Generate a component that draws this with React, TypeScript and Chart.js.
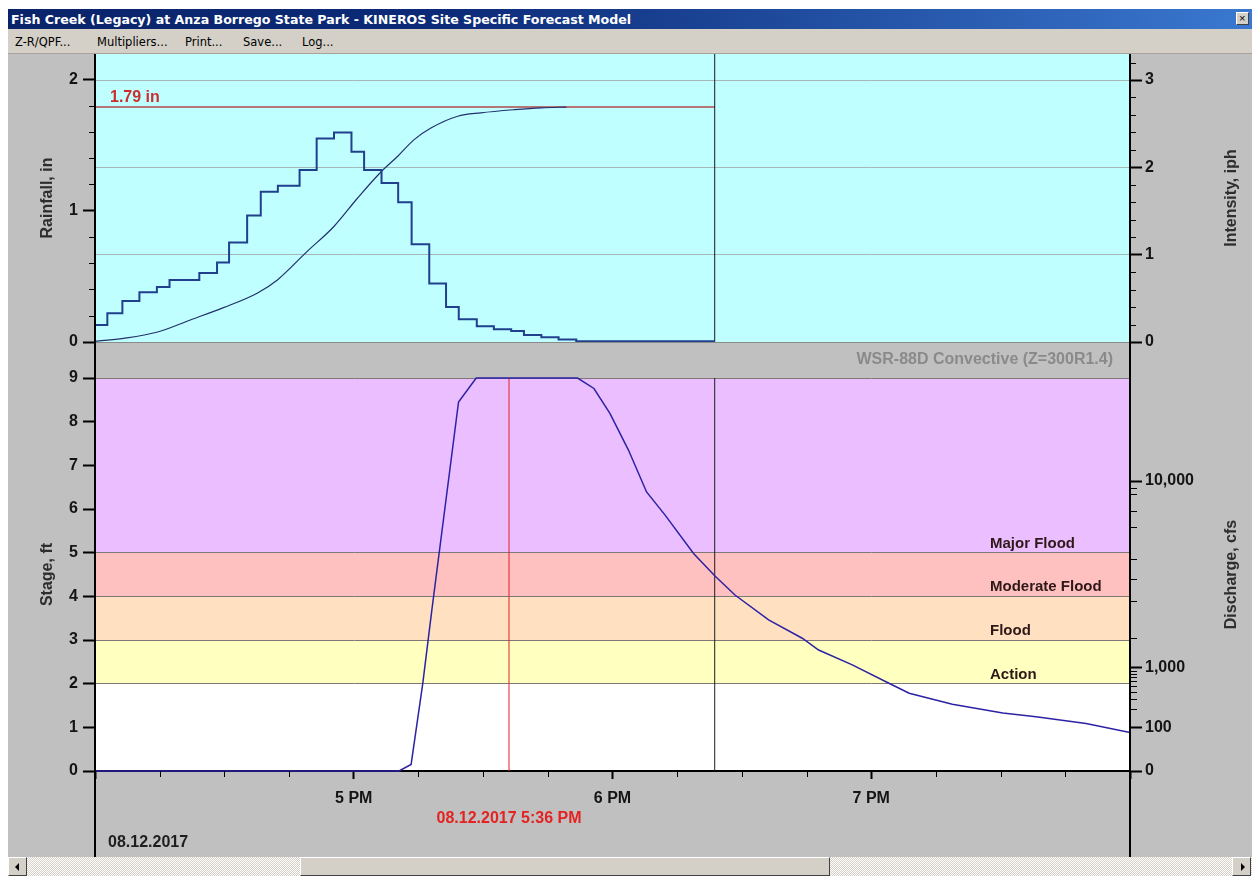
import React, { useEffect, useRef } from 'react';
import { Chart, registerables } from 'chart.js';

Chart.register(...registerables);

// ---------------- data ----------------
const windowTitle = 'Fish Creek (Legacy) at Anza Borrego State Park - KINEROS Site Specific Forecast Model';
const menuItems = ['Z-R/QPF...', 'Multipliers...', 'Print...', 'Save...', 'Log...'];

// x axis: minutes after 4 PM on 08.12.2017
const X_MIN = 0;
const X_MAX = 240;
const hourTicks = [0, 60, 120, 180, 240];
const hourLabels = ['', '5 PM', '6 PM', '7 PM', ''];
const quarterTicks = [15, 30, 45, 75, 90, 105, 135, 150, 165, 195, 210, 225];
const dateLabel = '08.12.2017';
const cursorMinute = 96;
const cursorLabel = '08.12.2017 5:36 PM';
const nowMinute = 143.7;
const radarLabel = 'WSR-88D Convective (Z=300R1.4)';

// rainfall panel
const RAIN_MAX = 2.194;
const INT_MAX = 3.298;
const rainTotal = 1.79;
const rainMajorTicks = [0, 1, 2];
const rainMinorTicks = [0.2, 0.4, 0.6, 0.8, 1.2, 1.4, 1.6, 1.8];
const intensityMajorTicks = [0, 1, 2, 3];
const intensityMinorTicks = [0.2, 0.4, 0.6, 0.8, 1.2, 1.4, 1.6, 1.8, 2.2, 2.4, 2.6, 2.8, 3.2];

const intensityEdges = [0, 2.86, 6.35, 10.3, 14.35, 17.28, 24.19, 28.3, 31.09, 35.28, 38.44, 42.4, 47.44, 51.4, 55.42, 59.47, 62.4, 66.44, 70.3, 73.42, 77.51, 81.4, 84.35, 88.53, 92.49, 96.51, 99.47, 103.5, 107.5, 111.6, 115.65, 143.7];
const intensityValues = [0.11, 0.195, 0.33, 0.47, 0.57, 0.63, 0.71, 0.79, 0.91, 1.14, 1.45, 1.72, 1.79, 1.97, 2.33, 2.4, 2.18, 1.97, 1.82, 1.6, 1.12, 0.67, 0.4, 0.26, 0.18, 0.145, 0.126, 0.08, 0.054, 0.03, 0.01];

const rainMinutes = [0, 6.6, 14.3, 22.1, 29.8, 37.6, 42.3, 49.2, 55.4, 60.9, 66.3, 70.2, 74.0, 77.9, 84.1, 89.5, 97.3, 103.5, 109.3];
const rainCumulative = [0.005, 0.028, 0.074, 0.168, 0.262, 0.372, 0.473, 0.69, 0.88, 1.097, 1.295, 1.415, 1.542, 1.63, 1.72, 1.746, 1.77, 1.784, 1.79];

// stage panel
const STAGE_MAX = 9;
const stageTicks = [0, 1, 2, 3, 4, 5, 6, 7, 8, 9];
const stageMinutes = [0, 70.5, 73.3, 76.0, 78.1, 84.3, 88.4, 111.9, 115.7, 119.4, 123.7, 127.9, 132.2, 138.8, 143.7, 148.4, 156.2, 164.0, 167.8, 175.6, 184.1, 188.8, 198.8, 210.5, 218.2, 229.8, 240];
const stageFeet = [0, 0, 0.15, 2.0, 3.68, 8.45, 9.0, 9.0, 8.76, 8.19, 7.35, 6.39, 5.86, 4.98, 4.47, 4.03, 3.46, 3.04, 2.77, 2.43, 2.01, 1.78, 1.53, 1.33, 1.24, 1.09, 0.88];

const floodFloors = [0, 2, 3, 4, 5];
const floodCeilings = [2, 3, 4, 5, 9];
const floodNames = ['', 'Action', 'Flood', 'Moderate Flood', 'Major Flood'];
const floodColors = ['#ffffff', '#ffffc0', '#ffe0c0', '#ffc0c0', '#ebbfff'];
const floodLineLevels = [2, 3, 4, 5, 9];

// discharge axis (rating curve: stage height of each discharge tick)
const dischargeMajorStage = [0, 1.0, 2.36, 6.64];
const dischargeMajorLabels = ['0', '100', '1,000', '10,000'];
const dischargeMinorStage = [1.41, 1.65, 1.82, 1.95, 2.06, 2.15, 2.23, 2.3, 3.05, 3.89, 4.39, 4.85, 5.58, 5.96, 6.34, 6.49];

// ---------------- helpers ----------------
const FAMILY = '"Liberation Sans", Arial, Helvetica, sans-serif';
const UI_FAMILY = '"DejaVu Sans", Verdana, sans-serif';
const tickFont = { family: FAMILY, size: 16, weight: 'bold' as const };
const MENU_X = [15, 97, 185, 243, 302];

const fixWidth = (w: number) => (s: any) => { s.width = w; s.paddingTop = 0; s.paddingBottom = 0; };
const fixHeight = (h: number) => (s: any) => { s.height = h; s.paddingLeft = 0; s.paddingRight = 0; };
const setTicks = (values: number[]) => (s: any) => { s.ticks = values.map((v) => ({ value: v })); };

function minorTicksPlugin(specs: { axis: string; values: number[]; len: number }[]) {
  return {
    id: 'minorTicks',
    afterDraw(chart: any) {
      const { ctx, chartArea: a } = chart;
      ctx.save();
      ctx.strokeStyle = '#000';
      ctx.lineWidth = 1;
      for (const sp of specs) {
        const s = chart.scales[sp.axis];
        for (const v of sp.values) {
          const p = Math.round(s.getPixelForValue(v)) + 0.5;
          ctx.beginPath();
          if (s.isHorizontal()) {
            ctx.moveTo(p, a.bottom);
            ctx.lineTo(p, a.bottom + sp.len);
          } else if (s.position === 'left') {
            ctx.moveTo(a.left - sp.len, p);
            ctx.lineTo(a.left, p);
          } else {
            ctx.moveTo(a.right, p);
            ctx.lineTo(a.right + sp.len, p);
          }
          ctx.stroke();
        }
      }
      ctx.restore();
    },
  };
}

function framePlugin(bottomLimit: 'area' | 'canvas') {
  return {
    id: 'frame',
    afterDraw(chart: any) {
      const { ctx, chartArea: a } = chart;
      const yEnd = bottomLimit === 'area' ? a.bottom : chart.height;
      ctx.save();
      ctx.strokeStyle = '#000';
      ctx.lineWidth = 2;
      [a.left, a.right].forEach((x: number) => {
        ctx.beginPath();
        ctx.moveTo(x, 0);
        ctx.lineTo(x, yEnd);
        ctx.stroke();
      });
      ctx.restore();
    },
  };
}

function rightTitlePlugin(text: string) {
  return {
    id: 'rightTitle',
    afterDraw(chart: any) {
      const { ctx, chartArea: a } = chart;
      ctx.save();
      ctx.translate(chart.width - 20, (a.top + a.bottom) / 2);
      ctx.rotate(-Math.PI / 2);
      ctx.font = `bold 16px ${FAMILY}`;
      ctx.fillStyle = '#2e2e2e';
      ctx.textAlign = 'center';
      ctx.textBaseline = 'middle';
      ctx.fillText(text, 0, 0);
      ctx.restore();
    },
  };
}

const lineDefaults = { pointRadius: 0, pointHoverRadius: 0, fill: false };

function topConfig(): any {
  const intensityPts = intensityEdges.map((e, i) => ({ x: e, y: intensityValues[Math.min(i, intensityValues.length - 1)] }));
  const rainPts = rainMinutes.map((m, i) => ({ x: m, y: rainCumulative[i] }));
  return {
    type: 'line',
    data: {
      datasets: [
        { ...lineDefaults, label: 'Intensity', data: intensityPts, stepped: 'after', borderColor: '#20408e', borderWidth: 2, yAxisID: 'yInt' },
        { ...lineDefaults, label: 'Cumulative rainfall', data: rainPts, borderColor: '#24306c', borderWidth: 1.2, cubicInterpolationMode: 'monotone', yAxisID: 'yRain' },
        { ...lineDefaults, label: 'Now', data: [{ x: nowMinute, y: 0 }, { x: nowMinute, y: RAIN_MAX }], borderColor: '#1a1a1a', borderWidth: 1, yAxisID: 'yRain' },
        { ...lineDefaults, label: 'Total', data: [{ x: X_MIN, y: rainTotal }, { x: nowMinute, y: rainTotal }], borderColor: '#b04848', borderWidth: 1.5, yAxisID: 'yRain' },
      ],
    },
    options: {
      animation: false,
      responsive: false,
      maintainAspectRatio: false,
      events: [],
      layout: { padding: 0 },
      plugins: { legend: { display: false }, tooltip: { enabled: false }, title: { display: false } },
      scales: {
        x: {
          type: 'linear', min: X_MIN, max: X_MAX,
          ticks: { display: false },
          grid: { display: false, drawTicks: false },
          border: { display: true, color: '#8a8a8a', width: 1 },
          afterFit: fixHeight(12),
        },
        yRain: {
          type: 'linear', position: 'left', min: 0, max: RAIN_MAX,
          afterBuildTicks: setTicks(rainMajorTicks),
          ticks: { font: tickFont, color: '#141414', padding: 5, callback: (v: number) => String(v) },
          grid: { drawOnChartArea: false, tickLength: 12, tickWidth: 2, tickColor: '#000' },
          border: { display: true, color: '#000', width: 2 },
          title: { display: true, text: 'Rainfall, in', color: '#2e2e2e', font: { family: FAMILY, size: 16, weight: 'bold' }, padding: 30 },
          afterFit: fixWidth(87),
        },
        yInt: {
          type: 'linear', position: 'right', min: 0, max: INT_MAX,
          afterBuildTicks: setTicks(intensityMajorTicks),
          ticks: { font: tickFont, color: '#141414', padding: 3, callback: (v: number) => String(v) },
          grid: {
            drawOnChartArea: true,
            color: (c: any) => (c.tick && c.tick.value === 0 ? 'rgba(0,0,0,0)' : '#a4b6b6'),
            lineWidth: 1, tickLength: 12, tickWidth: 2, tickColor: '#000',
          },
          border: { display: true, color: '#000', width: 2 },
          afterFit: fixWidth(122),
        },
      },
    },
    plugins: [
      {
        id: 'cyanBg',
        beforeDraw(chart: any) {
          const { ctx, chartArea: a } = chart;
          ctx.save();
          ctx.fillStyle = '#bfffff';
          ctx.fillRect(a.left, a.top, a.right - a.left, a.bottom - a.top);
          ctx.restore();
        },
      },
      {
        id: 'totalLabel',
        afterDatasetsDraw(chart: any) {
          const { ctx, chartArea: a, scales } = chart;
          const y = scales.yRain.getPixelForValue(rainTotal);
          ctx.save();
          ctx.font = `bold 16px ${FAMILY}`;
          ctx.fillStyle = '#cc2e2e';
          ctx.textAlign = 'left';
          ctx.textBaseline = 'middle';
          ctx.fillText(`${rainTotal.toFixed(2)} in`, a.left + 15, y - 9);
          ctx.restore();
        },
      },
      minorTicksPlugin([
        { axis: 'yRain', values: rainMinorTicks, len: 6 },
        { axis: 'yInt', values: intensityMinorTicks, len: 6 },
      ]),
      framePlugin('area'),
      rightTitlePlugin('Intensity, iph'),
    ],
  };
}

function bottomConfig(): any {
  const stagePts = stageMinutes.map((m, i) => ({ x: m, y: stageFeet[i] }));
  return {
    type: 'line',
    data: {
      datasets: [
        { ...lineDefaults, label: 'Stage', data: stagePts, borderColor: '#2c22a4', borderWidth: 1.5, yAxisID: 'yStage', clip: 4 },
        { ...lineDefaults, label: 'Now', data: [{ x: nowMinute, y: 0 }, { x: nowMinute, y: STAGE_MAX }], borderColor: '#1e1e1e', borderWidth: 1, yAxisID: 'yStage' },
        { ...lineDefaults, label: 'Cursor', data: [{ x: cursorMinute, y: 0 }, { x: cursorMinute, y: STAGE_MAX }], borderColor: '#e4202a', borderWidth: 1, yAxisID: 'yStage' },
      ],
    },
    options: {
      animation: false,
      responsive: false,
      maintainAspectRatio: false,
      events: [],
      layout: { padding: { top: 36, left: 0, right: 0, bottom: 0 } },
      plugins: { legend: { display: false }, tooltip: { enabled: false }, title: { display: false } },
      scales: {
        x: {
          type: 'linear', min: X_MIN, max: X_MAX,
          afterBuildTicks: setTicks(hourTicks),
          ticks: {
            font: tickFont, color: '#141414', padding: 10, maxRotation: 0, autoSkip: false,
            callback: (v: number) => hourLabels[hourTicks.indexOf(v)] ?? '',
          },
          grid: { display: true, drawOnChartArea: false, tickLength: 8, tickWidth: 2, tickColor: '#000' },
          border: { display: true, color: '#000', width: 2 },
          afterFit: fixHeight(86),
        },
        yStage: {
          type: 'linear', position: 'left', min: 0, max: STAGE_MAX,
          afterBuildTicks: setTicks(stageTicks),
          ticks: { font: tickFont, color: '#141414', padding: 5, autoSkip: false, callback: (v: number) => String(v) },
          grid: {
            drawOnChartArea: true,
            color: (c: any) => (c.tick && floodLineLevels.includes(c.tick.value) ? '#7e7878' : 'rgba(0,0,0,0)'),
            lineWidth: 1, tickLength: 12, tickWidth: 2, tickColor: '#000',
          },
          border: { display: true, color: '#000', width: 2 },
          title: { display: true, text: 'Stage, ft', color: '#2e2e2e', font: { family: FAMILY, size: 16, weight: 'bold' }, padding: 30 },
          afterFit: fixWidth(87),
        },
        yQ: {
          type: 'linear', position: 'right', min: 0, max: STAGE_MAX,
          afterBuildTicks: setTicks(dischargeMajorStage),
          ticks: {
            font: tickFont, color: '#141414', padding: 3, autoSkip: false,
            callback: (_v: number, i: number) => dischargeMajorLabels[i],
          },
          grid: { drawOnChartArea: false, tickLength: 12, tickWidth: 2, tickColor: '#000' },
          border: { display: true, color: '#000', width: 2 },
          afterFit: fixWidth(122),
        },
      },
    },
    plugins: [
      {
        id: 'floodBands',
        beforeDraw(chart: any) {
          const { ctx, chartArea: a, scales } = chart;
          const ys = scales.yStage;
          ctx.save();
          floodFloors.forEach((f, i) => {
            const yTop = ys.getPixelForValue(floodCeilings[i]);
            const yBot = ys.getPixelForValue(f);
            ctx.fillStyle = floodColors[i];
            ctx.fillRect(a.left, yTop, a.right - a.left, yBot - yTop);
          });
          ctx.restore();
        },
        beforeDatasetsDraw(chart: any) {
          const { ctx, chartArea: a, scales } = chart;
          const ys = scales.yStage;
          ctx.save();
          ctx.font = `bold 15px ${FAMILY}`;
          ctx.fillStyle = '#2e1818';
          ctx.textAlign = 'left';
          ctx.textBaseline = 'alphabetic';
          floodFloors.forEach((f, i) => {
            if (!floodNames[i]) return;
            ctx.fillText(floodNames[i], a.right - 140, ys.getPixelForValue(f) - 5);
          });
          ctx.restore();
        },
      },
      {
        id: 'texts',
        afterDraw(chart: any) {
          const { ctx, chartArea: a, scales } = chart;
          ctx.save();
          ctx.font = `bold 16px ${FAMILY}`;
          ctx.textBaseline = 'middle';
          ctx.fillStyle = '#8a8a8a';
          ctx.textAlign = 'right';
          ctx.fillText(radarLabel, a.right - 17, a.top / 2);
          ctx.fillStyle = '#e42222';
          ctx.textAlign = 'center';
          ctx.fillText(cursorLabel, scales.x.getPixelForValue(cursorMinute), a.bottom + 48);
          ctx.fillStyle = '#1e1e1e';
          ctx.textAlign = 'left';
          ctx.fillText(dateLabel, a.left + 13, a.bottom + 72);
          ctx.restore();
        },
      },
      minorTicksPlugin([
        { axis: 'x', values: quarterTicks, len: 6 },
        { axis: 'yQ', values: dischargeMinorStage, len: 7 },
      ]),
      framePlugin('canvas'),
      rightTitlePlugin('Discharge, cfs'),
    ],
  };
}

function Triangle({ dir }: { dir: 'left' | 'right' }) {
  const s: React.CSSProperties = {
    position: 'absolute', top: 5, width: 0, height: 0,
    borderTop: '4px solid transparent', borderBottom: '4px solid transparent',
  };
  if (dir === 'left') { s.left = 6; s.borderRight = '4px solid #000'; }
  else { s.left = 8; s.borderLeft = '4px solid #000'; }
  return <div style={s} />;
}

const bevel: React.CSSProperties = {
  position: 'absolute', boxSizing: 'border-box', background: '#d4d0c8',
  borderStyle: 'solid', borderWidth: 1, borderColor: '#ffffff #404040 #404040 #ffffff',
};

export default function App() {
  const topRef = useRef<HTMLCanvasElement>(null);
  const botRef = useRef<HTMLCanvasElement>(null);

  useEffect(() => {
    const top = new Chart(topRef.current as HTMLCanvasElement, topConfig());
    const bot = new Chart(botRef.current as HTMLCanvasElement, bottomConfig());
    return () => {
      top.destroy();
      bot.destroy();
    };
  }, []);

  return (
    <div style={{ position: 'absolute', left: 0, top: 0, width: 1255, height: 876, background: '#ffffff', overflow: 'hidden', fontFamily: FAMILY }}>
      {/* title bar */}
      <div style={{ position: 'absolute', left: 8, top: 9, width: 1244, height: 20, background: 'linear-gradient(90deg, #0a246a 0%, #0c2a78 35%, #3a78d0 100%)' }}>
        <span style={{ position: 'absolute', left: 3, top: 3, color: '#ffffff', fontFamily: UI_FAMILY, fontWeight: 'bold', fontSize: 12.6, lineHeight: '16px', whiteSpace: 'nowrap' }}>{windowTitle}</span>
        <div style={{ ...bevel, left: 1228, top: 3, width: 13, height: 13 }}>
          <span style={{ position: 'absolute', left: 2, top: -2, fontSize: 11, lineHeight: '14px', color: '#000', fontFamily: FAMILY }}>×</span>
        </div>
      </div>
      {/* menu bar */}
      <div style={{ position: 'absolute', left: 8, top: 29, width: 1244, height: 24, background: '#d4d0c8', borderBottom: '1px solid #a8a49c' }}>
        {menuItems.map((m, i) => (
          <span key={m} style={{ position: 'absolute', left: MENU_X[i] - 8, top: 5, fontFamily: UI_FAMILY, fontSize: 11.5, lineHeight: '16px', color: '#000', whiteSpace: 'nowrap' }}>{m}</span>
        ))}
      </div>
      {/* chart field */}
      <div style={{ position: 'absolute', left: 8, top: 54, width: 1244, height: 803, background: '#c0c0c0' }} />
      <canvas ref={topRef} width={1244} height={300} style={{ position: 'absolute', left: 8, top: 54, width: 1244, height: 300 }} />
      <canvas ref={botRef} width={1244} height={515} style={{ position: 'absolute', left: 8, top: 342, width: 1244, height: 515 }} />
      {/* scrollbar */}
      <div style={{ position: 'absolute', left: 8, top: 857, width: 1244, height: 19, background: 'repeating-conic-gradient(#ffffff 0% 25%, #d4d0c8 0% 50%) 0 0 / 2px 2px' }}>
        <div style={{ ...bevel, left: 0, top: 0, width: 19, height: 19 }}><Triangle dir="left" /></div>
        <div style={{ ...bevel, left: 292, top: 0, width: 530, height: 19 }} />
        <div style={{ ...bevel, left: 1224, top: 0, width: 19, height: 19 }}><Triangle dir="right" /></div>
      </div>
    </div>
  );
}
